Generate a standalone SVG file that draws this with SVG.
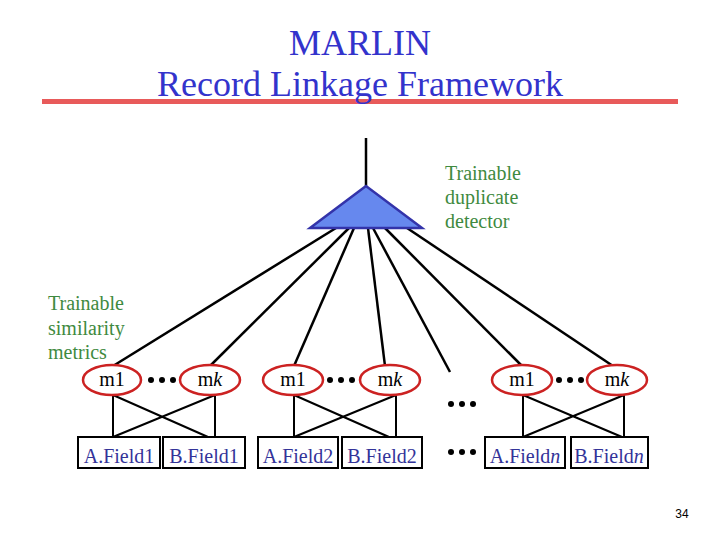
<svg xmlns="http://www.w3.org/2000/svg" width="720" height="540" viewBox="0 0 720 540">
<style>
.title{font-family:"Liberation Serif",serif;font-size:36px;fill:#3333cc;text-anchor:middle}
.green{font-family:"Liberation Serif",serif;font-size:20px;fill:#3f8a3f}
.m{font-family:"Liberation Serif",serif;font-size:20px;fill:#000;text-anchor:middle}
.f{font-family:"Liberation Serif",serif;font-size:20px;fill:#333399;text-anchor:middle}
.ell{fill:#fff;stroke:#cc2222;stroke-width:2.5}
.box{fill:#fff;stroke:#000;stroke-width:2}
.ln{stroke:#000;stroke-width:2.5;fill:none}
.thin{stroke:#000;stroke-width:2;fill:none}
.dot{fill:#000}
</style>
<rect width="720" height="540" fill="#fff"/>
<g id="title">
<rect x="42" y="99" width="636" height="5" fill="#e85a5a"/>
<text class="title" x="360" y="55">MARLIN</text>
<text class="title" x="360" y="96">Record Linkage Framework</text>
</g>
<g id="connectors">
<line class="ln" x1="366" y1="138" x2="366" y2="186"/>
<line class="ln" x1="336" y1="228" x2="113" y2="366"/>
<line class="ln" x1="349" y1="228" x2="210" y2="366"/>
<line class="ln" x1="354" y1="228" x2="294" y2="366"/>
<line class="ln" x1="368" y1="228" x2="385" y2="366"/>
<line class="ln" x1="373" y1="228" x2="450" y2="372"/>
<line class="ln" x1="385" y1="228" x2="522" y2="366"/>
<line class="ln" x1="407" y1="228" x2="613" y2="366"/>
<path class="thin" d="M113 395V437M113 395L208 437M215 395L113 437M215 395V437"/>
<path class="thin" d="M294 395V437M294 395L389 437M396 395L294 437M396 395V437"/>
<path class="thin" d="M523 395V437M523 395L622 437M624 395L523 437M624 395V437"/>
</g>
<g id="detector">
<polygon points="366,186 310,228 422,228" fill="#6688ee" stroke="#3333aa" stroke-width="2.5"/>
<text class="green" x="445" y="180">Trainable</text>
<text class="green" x="445" y="204">duplicate</text>
<text class="green" x="445" y="228">detector</text>
</g>
<g id="metrics-label">
<text class="green" x="48" y="310">Trainable</text>
<text class="green" x="48" y="335">similarity</text>
<text class="green" x="48" y="359">metrics</text>
</g>
<g id="metric-1-1"><ellipse class="ell" cx="112" cy="380" rx="29" ry="15"/><text class="m" x="112" y="386">m1</text></g>
<g id="metric-1-k"><ellipse class="ell" cx="210" cy="380" rx="30" ry="15"/><text class="m" x="210" y="386">m<tspan font-style="italic">k</tspan></text></g>
<g id="metric-2-1"><ellipse class="ell" cx="293" cy="380" rx="30" ry="15"/><text class="m" x="293" y="386">m1</text></g>
<g id="metric-2-k"><ellipse class="ell" cx="390" cy="380" rx="30" ry="15"/><text class="m" x="390" y="386">m<tspan font-style="italic">k</tspan></text></g>
<g id="metric-n-1"><ellipse class="ell" cx="522" cy="380" rx="30" ry="15"/><text class="m" x="522" y="386">m1</text></g>
<g id="metric-n-k"><ellipse class="ell" cx="617" cy="380" rx="30" ry="15"/><text class="m" x="617" y="386">m<tspan font-style="italic">k</tspan></text></g>
<g id="dots">
<circle class="dot" cx="151" cy="380" r="3"/><circle class="dot" cx="162" cy="380" r="3"/><circle class="dot" cx="173" cy="380" r="3"/>
<circle class="dot" cx="330" cy="380" r="3"/><circle class="dot" cx="341" cy="380" r="3"/><circle class="dot" cx="352" cy="380" r="3"/>
<circle class="dot" cx="559" cy="380" r="3"/><circle class="dot" cx="570" cy="380" r="3"/><circle class="dot" cx="581" cy="380" r="3"/>
<circle class="dot" cx="451" cy="404" r="3"/><circle class="dot" cx="462" cy="404" r="3"/><circle class="dot" cx="473" cy="404" r="3"/>
<circle class="dot" cx="451" cy="452" r="3"/><circle class="dot" cx="462" cy="452" r="3"/><circle class="dot" cx="473" cy="452" r="3"/>
</g>
<g id="a-field1"><rect class="box" x="78" y="437" width="82" height="31"/><text class="f" x="119" y="463">A.Field1</text></g>
<g id="b-field1"><rect class="box" x="163" y="437" width="82" height="31"/><text class="f" x="204" y="463">B.Field1</text></g>
<g id="a-field2"><rect class="box" x="258" y="437" width="80" height="31"/><text class="f" x="298" y="463">A.Field2</text></g>
<g id="b-field2"><rect class="box" x="342" y="437" width="80" height="31"/><text class="f" x="382" y="463">B.Field2</text></g>
<g id="a-fieldn"><rect class="box" x="485" y="437" width="80" height="31"/><text class="f" x="525" y="463">A.Field<tspan font-style="italic">n</tspan></text></g>
<g id="b-fieldn"><rect class="box" x="571" y="437" width="77" height="31"/><text class="f" x="609" y="463">B.Field<tspan font-style="italic">n</tspan></text></g>
<text x="682" y="518" font-family="Liberation Sans,sans-serif" font-size="12" fill="#000" text-anchor="middle">34</text>
</svg>
